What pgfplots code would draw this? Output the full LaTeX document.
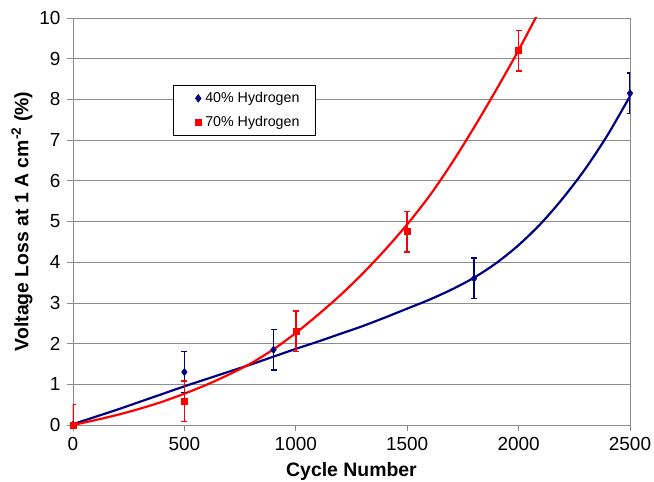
\documentclass[border=0pt]{standalone}
\usepackage{fontspec}
\setmainfont{Liberation Sans}
\usepackage{pgfplots}
\pgfplotsset{compat=1.18}
\definecolor{bl}{RGB}{0,0,130}
\definecolor{rd}{RGB}{255,0,0}
\definecolor{gridgray}{RGB}{140,140,140}
\begin{document}
\begin{tikzpicture}
\begin{axis}[
  scale only axis, width=557bp, height=407bp,
  xmin=0, xmax=2500, ymin=0, ymax=10,
  xtick={0,500,1000,1500,2000,2500}, ytick={0,1,2,3,4,5,6,7,8,9,10},
  ymajorgrids, grid style={gridgray, line width=0.8pt},
  axis line style={gridgray, line width=0.8pt},
  tick align=outside, tick style={gridgray, line width=0.8pt}, major tick length=6bp,
  xtick pos=left, ytick pos=left,
  tick label style={font=\fontsize{19}{22}\selectfont},
  yticklabel style={xshift=-3bp},
  xticklabel style={yshift=-3bp},
  /pgf/number format/assume math mode=true,
  /pgf/number format/1000 sep={},
  xlabel={Cycle Number},
  ylabel={Voltage Loss at 1 A cm\textsuperscript{-2} (\%)},
  every axis x label/.style={at={(axis description cs:0.5,-0.113)}, anchor=center,
    font=\fontsize{19.5}{22}\selectfont\bfseries},
  every axis y label/.style={at={(axis description cs:-0.0916,0.5)}, rotate=90, anchor=center,
    font=\fontsize{19.5}{22}\selectfont\bfseries},
  legend style={at={(0.1795,0.835)}, anchor=north west, font=\fontsize{14.3}{16}\selectfont,
    draw=black, line width=0.6pt, inner xsep=14bp, inner ysep=5bp, row sep=8bp},
  legend cell align=left,
  legend image code/.code={\path[draw=none, fill=none] (0bp,0bp) -- (16bp,0bp); \draw[#1] plot[only marks] coordinates {(11bp,0bp)};},
]
% trend lines
\addplot[bl, line width=2.2pt, smooth, forget plot] coordinates {
 (0,0.02) (100,0.20) (200,0.38) (300,0.57) (400,0.76) (500,0.95) (600,1.13)
 (700,1.31) (800,1.49) (900,1.68) (1000,1.87) (1100,2.05) (1200,2.24)
 (1300,2.43) (1400,2.64) (1500,2.86) (1600,3.08) (1700,3.33) (1800,3.62)
 (1900,3.98) (2000,4.42) (2100,4.95) (2200,5.58) (2300,6.30) (2400,7.13) (2500,8.08)};
\addplot[rd, line width=2.2pt, smooth, forget plot] coordinates {
 (0,0) (100,0.12) (200,0.25) (300,0.40) (400,0.57) (500,0.77) (600,0.99)
 (700,1.24) (800,1.52) (900,1.86) (1000,2.26) (1100,2.71) (1200,3.19)
 (1300,3.72) (1400,4.30) (1500,4.93) (1600,5.63) (1700,6.43) (1800,7.31)
 (1900,8.24) (2000,9.21) (2100,10.25)};
% data points with error bars
\addplot[bl, only marks, mark=diamond*, mark size=3.8bp,
  error bars/.cd, y dir=both, y explicit,
  error bar style={bl, line width=1.5pt},
  error mark options={rotate=90, mark size=3bp, line width=1.3pt, bl}]
  table[x=x, y=y, y error=e] {
x y e
0 0 0.5
500 1.3 0.5
900 1.85 0.5
1800 3.6 0.5
2500 8.15 0.5
};
\addlegendentry{40\% Hydrogen}
\addplot[rd, only marks, mark=square*, mark size=3bp,
  error bars/.cd, y dir=both, y explicit,
  error bar style={rd, line width=1.5pt},
  error mark options={rotate=90, mark size=3bp, line width=1.3pt, rd}]
  table[x=x, y=y, y error=e] {
x y e
0 0 0.5
500 0.58 0.5
1000 2.3 0.5
1500 4.75 0.5
2000 9.2 0.5
};
\addlegendentry{70\% Hydrogen}
\end{axis}
\pgfresetboundingbox
\path[use as bounding box] (current axis.south west) ++(-73bp,-57bp) rectangle ++(654bp,482bp);
\end{tikzpicture}
\end{document}
